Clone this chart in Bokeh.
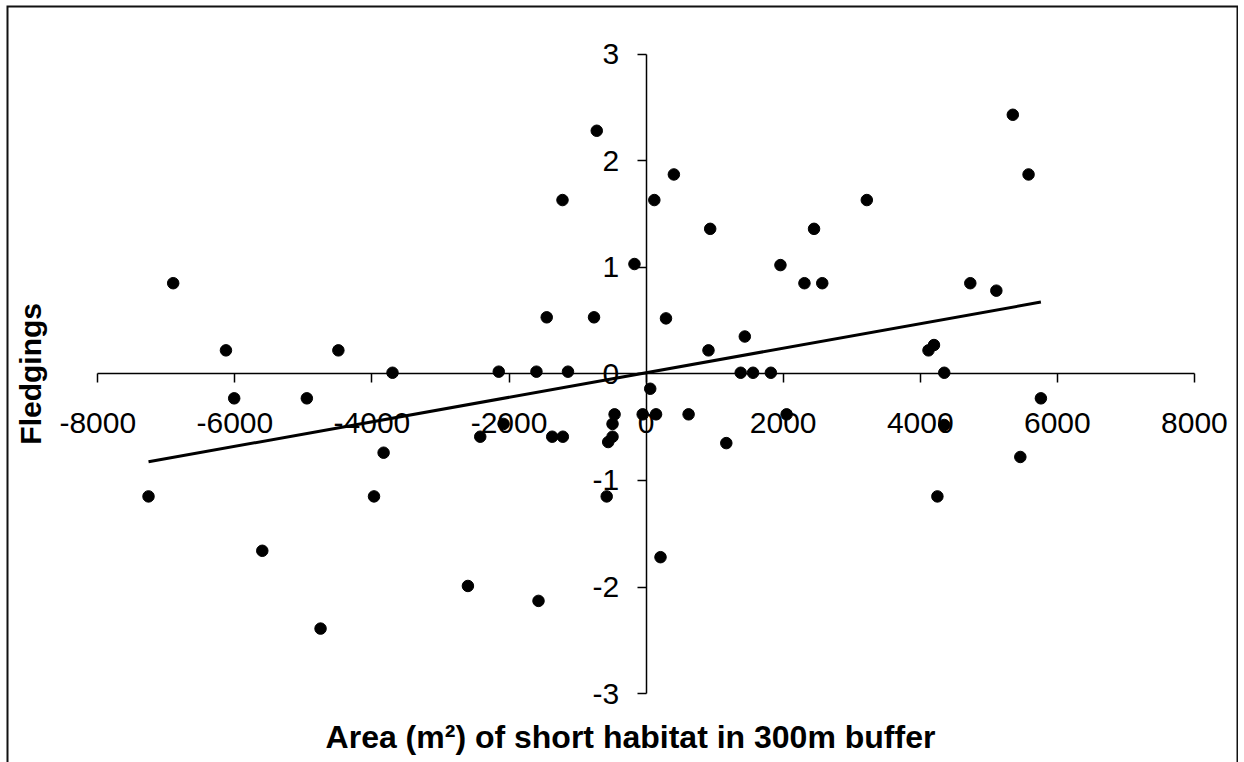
import math
from bokeh.plotting import figure
from bokeh.models import Range1d, FixedTicker, Label, BoxAnnotation
from bokeh.embed import file_html
from bokeh.resources import INLINE

# ---- data ----
area_x = [-7260, -6900, -6130, -6010, -5600, -4950, -4750, -4490, -3970, -3830,
          -3700, -2600, -2420, -2150, -2080, -1600, -1570, -1450, -1370, -1220,
          -1215, -1140, -760, -720, -575, -553, -490, -490, -460, -170,
          -50, 60, 120, 145, 210, 290, 405, 620, 910, 935,
          1170, 1380, 1440, 1560, 1820, 1960, 2050, 2310, 2450, 2570,
          3220, 4120, 4200, 4250, 4350, 4350, 4730, 5110, 5350, 5460,
          5580, 5760]
fledgings = [-1.15, 0.85, 0.22, -0.23, -1.66, -0.23, -2.39, 0.22, -1.15, -0.74,
             0.01, -1.99, -0.59, 0.02, -0.47, 0.02, -2.13, 0.53, -0.59, 1.63,
             -0.59, 0.02, 0.53, 2.28, -1.15, -0.64, -0.59, -0.47, -0.38, 1.03,
             -0.38, -0.14, 1.63, -0.38, -1.72, 0.52, 1.87, -0.38, 0.22, 1.36,
             -0.65, 0.01, 0.35, 0.01, 0.01, 1.02, -0.38, 0.85, 1.36, 0.85,
             1.63, 0.22, 0.27, -1.15, 0.01, -0.48, 0.85, 0.78, 2.43, -0.78,
             1.87, -0.23]
trend_slope = 0.0001151
trend_intercept = 0.01
x_ticks = [-8000, -6000, -4000, -2000, 0, 2000, 4000, 6000, 8000]
x_tick_labels = ["-8000", "-6000", "-4000", "-2000", "0", "2000", "4000", "6000", "8000"]
y_ticks = [-3, -2, -1, 0, 1, 2, 3]
y_tick_labels = ["-3", "-2", "-1", "0", "1", "2", "3"]
x_title = "Area (m²) of short habitat in 300m buffer"
y_title = "Fledgings"

W, H = 1238, 762
xr = Range1d(-9332, 8643)
yr = Range1d(-3.646, 3.455)
p = figure(width=W, height=H, output_backend="svg", toolbar_location=None,
           x_range=xr, y_range=yr,
           min_border=0, min_border_left=6, min_border_right=0,
           min_border_top=5, min_border_bottom=0)
p.title.visible = False
p.xgrid.visible = False
p.ygrid.visible = False
p.background_fill_color = "white"
p.border_fill_color = "white"
p.outline_line_color = None

# chart-area border (its bottom edge lies below the visible page)
p.add_layout(BoxAnnotation(left=xr.start, right=xr.end, top=yr.end,
                           bottom=yr.start - 1.0, fill_color=None, fill_alpha=0,
                           line_color="#111111", line_alpha=1.0, line_width=4))

font = "Liberation Sans"
for ax, ticks, labels in ((p.xaxis[0], x_ticks, x_tick_labels),
                          (p.yaxis[0], y_ticks, y_tick_labels)):
    ax.fixed_location = 0
    ax.ticker = FixedTicker(ticks=ticks)
    ax.major_label_overrides = {t: s for t, s in zip(ticks, labels)}
    ax.bounds = (ticks[0], ticks[-1])
    ax.axis_line_color = "black"
    ax.axis_line_width = 1.5
    ax.major_tick_line_color = "black"
    ax.major_tick_line_width = 1.5
    ax.major_tick_in = 0
    ax.major_tick_out = 9
    ax.minor_tick_line_color = None
    ax.major_label_text_font = font
    ax.major_label_text_font_size = "30px"
    ax.major_label_text_color = "black"
p.xaxis[0].major_label_standoff = 30
p.yaxis[0].major_label_standoff = 18

# trend line over the data range
tx = [min(area_x), max(area_x)]
ty = [trend_slope * v + trend_intercept for v in tx]
p.line(tx, ty, line_color="black", line_width=3)

p.scatter(area_x, fledgings, size=11.5, marker="circle",
          fill_color="black", line_color="black")

p.add_layout(Label(x=-228, y=-3.41, text=x_title, text_font=font,
                   text_font_size="32px", text_font_style="bold",
                   text_align="center", text_baseline="middle",
                   text_color="black"))
p.add_layout(Label(x=-8982, y=0, text=y_title, text_font=font,
                   text_font_size="30px", text_font_style="bold",
                   text_align="center", text_baseline="middle",
                   angle=math.pi / 2, text_color="black"))

open("out.html", "w").write(file_html(p, INLINE))
